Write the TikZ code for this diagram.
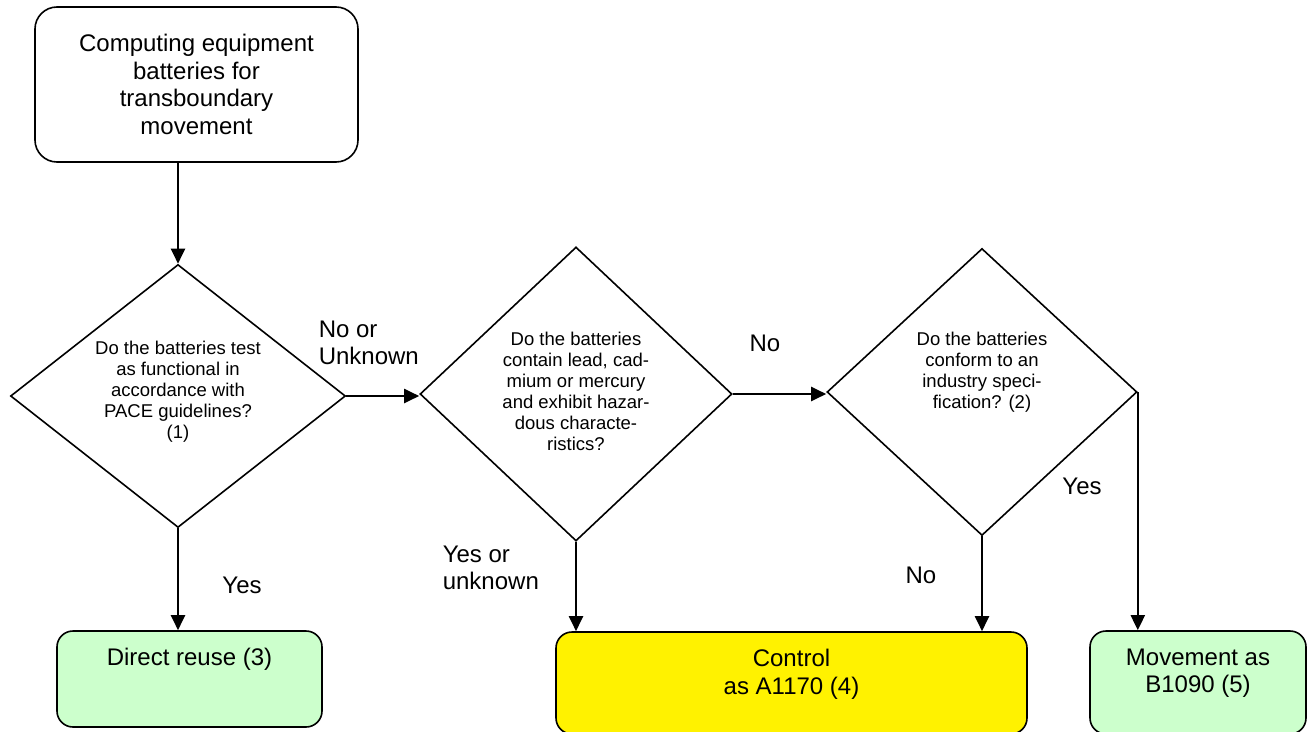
\documentclass[tikz,border=0pt]{standalone}
\usepackage{fontspec}
\setmainfont{Liberation Sans}
\usetikzlibrary{arrows.meta, shapes.geometric}

\begin{document}
\begin{tikzpicture}[x=1pt, y=-1pt, >={Triangle[length=15pt, width=14pt]}, line width=1.6pt,
        startbox/.style={draw, rounded corners=22pt, align=center, inner sep=0pt, font=\fontsize{24}{27.5}\selectfont},
        endbox/.style={draw, rounded corners=16pt, inner sep=0pt},
        decision/.style={draw, diamond, inner sep=0pt},
        qtext/.style={align=center, inner sep=0pt, font=\fontsize{18.5}{21}\selectfont},
        lbl/.style={align=left, inner sep=0pt, font=\fontsize{24}{27.5}\selectfont},
        flow/.style={->, line width=2pt}]
        \path[use as bounding box] (0,0) rectangle (1312,731);
        \clip (0,0) rectangle (1312,731);
        \node[startbox, minimum width=323pt, minimum height=155pt] (start) at (196.5,84.5) {Computing equipment\\batteries for\\transboundary\\movement};
        \node[decision, minimum width=335pt, minimum height=263pt] (q1) at (178,396) {};
        \node[decision, minimum width=312pt, minimum height=294pt] (q2) at (576,394) {};
        \node[decision, minimum width=310pt, minimum height=287pt] (q3) at (982,392) {};
        \node[qtext, yshift=4pt] (q1t) at (q1.center) {Do the batteries test\\as functional in\\accordance with\\PACE guidelines?\\(1)};
        \node[qtext, yshift=3pt] (q2t) at (q2.center) {Do the batteries\\contain lead, cad-\\mium or mercury\\and exhibit hazar-\\dous characte-\\ristics?};
        \node[qtext, yshift=20pt] (q3t) at (q3.center) {Do the batteries\\conform to an\\industry speci-\\fication? (2)};
        \node[endbox, fill=green!20, minimum width=265pt, minimum height=96pt] (reuse) at (189.5,679) {};
        \node[endbox, fill=yellow, minimum width=471pt, minimum height=102pt] (ctrl) at (791.5,683) {};
        \node[endbox, fill=green!20, minimum width=216pt, minimum height=103pt] (move) at (1198,682.5) {};
        \node[lbl, yshift=-29pt] (reuset) at (reuse.north) {Direct reuse (3)};
        \node[lbl, align=center, yshift=-43pt] (ctrlt) at (ctrl.north) {Control\\as A1170 (4)};
        \node[lbl, align=center, yshift=-43pt] (movet) at (move.north) {Movement as\\B1090 (5)};
        \node[lbl, anchor=west] (nounk) at (318,343) {No or\\Unknown};
        \node[lbl] (no1) at (765,343) {No};
        \node[lbl] (yes3) at (1082,486) {Yes};
        \node[lbl] (yes1) at (242,585) {Yes};
        \node[lbl, anchor=west] (yesunk) at (442,568) {Yes or\\unknown};
        \node[lbl] (no2) at (921,575) {No};
        \draw[flow] (start.south -| q1.north) -- (q1.north);
        \draw[flow] (q1.east) -- (q1.east -| q2.west);
        \draw[flow] (q2.east) -- (q2.east -| q3.west);
        \draw[flow] (q1.south) -- (q1.south |- reuse.north);
        \draw[flow] (q2.south) -- (q2.south |- ctrl.north);
        \draw[flow] (q3.south) -- (q3.south |- ctrl.north);
        \draw[flow] (q3.east) -- (q3.east |- move.north);
    \end{tikzpicture}
\end{document}
